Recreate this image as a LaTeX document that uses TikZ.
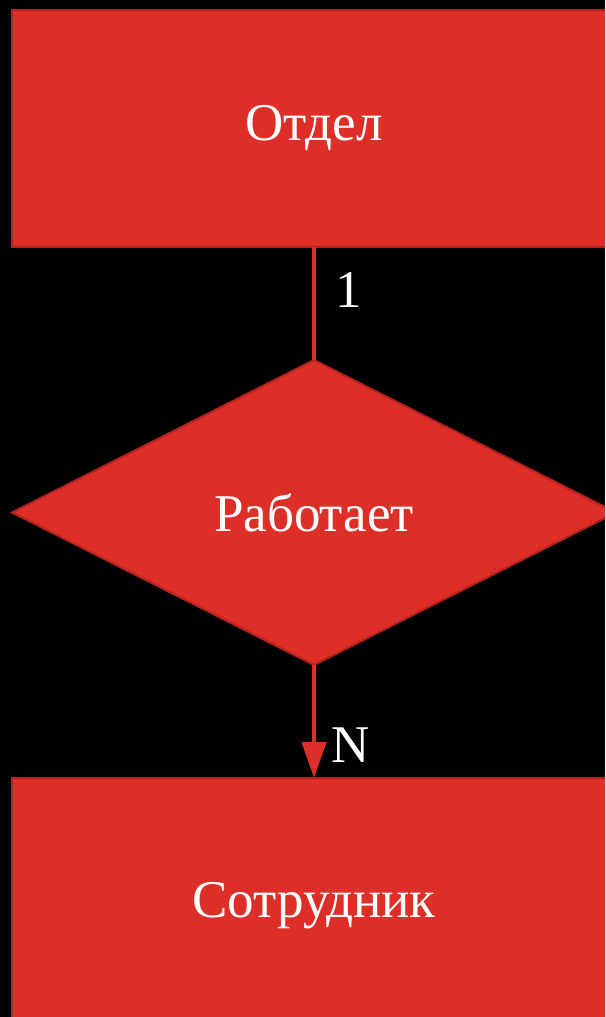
\documentclass[tikz,border=0pt]{standalone}
\usepackage{fontspec}
\usetikzlibrary{shapes.geometric,arrows.meta,positioning}
\newfontfamily\lblfont{Liberation Serif}
\definecolor{colER}{RGB}{222,46,40}
\definecolor{colERdark}{RGB}{178,34,30}
\tikzset{
  entity/.style   = {rectangle, draw=colERdark, fill=colER, line width=2pt,
                     text=white, font=\lblfont\fontsize{53}{53}\selectfont,
                     minimum width=604pt, minimum height=237pt, inner sep=0pt,
                     outer sep=0pt},
  relation/.style = {diamond, draw=colERdark, fill=colER, line width=2pt,
                     text=white, font=\lblfont\fontsize{53}{53}\selectfont,
                     minimum width=604pt, minimum height=305pt, inner sep=0pt,
                     outer sep=0pt},
  card/.style     = {text=white, font=\lblfont\fontsize{53}{53}\selectfont,
                     inner sep=0pt},
  conn/.style     = {draw=colER, line width=4.5pt},
  arr/.style      = {conn, -{Triangle[length=36pt,width=24pt]}},
}
\begin{document}
\begin{tikzpicture}[x=1pt,y=-1pt]
\fill[black] (0,0) rectangle (605,1017);
\useasboundingbox (0,0) rectangle (605,1017);
\clip (0,0) rectangle (605,1017);

%% entities and relationship
\node[entity]   (otdel)     at (314,128.5) {Отдел};
\node[relation] (rabotaet)  at (314,512.5) {Работает};
\node[entity, minimum height=256pt] (sotrudnik) at (314,906) {Сотрудник};

%% cardinalities
\draw[conn] (otdel) -- (rabotaet);
\node[card, anchor=west] (one) at (335,290) {1};
\draw[arr]  (rabotaet) -- (sotrudnik);
\node[card, anchor=west] (many) at (331,745) {N};

\end{tikzpicture}
\end{document}
